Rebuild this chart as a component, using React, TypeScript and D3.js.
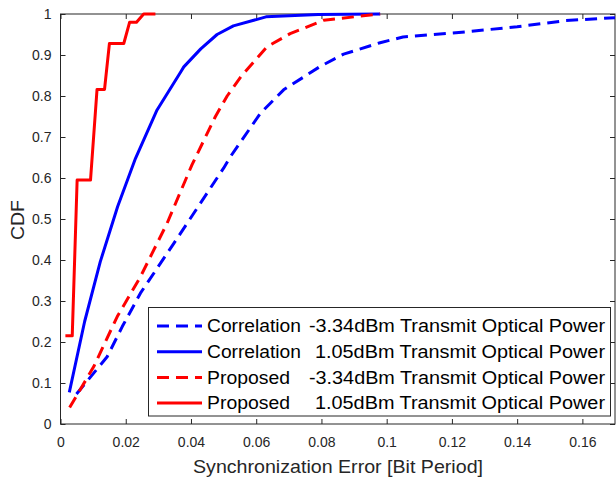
import { useEffect, useRef } from 'react';
import { select, scaleLinear, axisBottom, axisLeft, axisTop, axisRight, line, range } from 'd3';

type Pt = [number, number];

const corrLow: Pt[] = [
  [0.0049, 0.073], [0.0143, 0.164], [0.0189, 0.237], [0.0245, 0.319], [0.0347, 0.44],
  [0.05, 0.624], [0.0521, 0.652], [0.0613, 0.758], [0.0684, 0.815], [0.0796, 0.872],
  [0.0868, 0.902], [0.098, 0.93], [0.105, 0.944], [0.125, 0.957], [0.14, 0.969],
  [0.155, 0.984], [0.17, 0.991]
];
const corrHigh: Pt[] = [
  [0.0027, 0.077], [0.0074, 0.25], [0.0122, 0.396], [0.0175, 0.53], [0.023, 0.648],
  [0.0296, 0.766], [0.0368, 0.858], [0.0378, 0.871], [0.043, 0.915], [0.048, 0.95],
  [0.053, 0.971], [0.063, 0.993], [0.079, 0.999], [0.098, 1.0]
];
const propLow: Pt[] = [
  [0.0028, 0.04], [0.0102, 0.14], [0.0174, 0.262], [0.0245, 0.359], [0.0327, 0.49],
  [0.0403, 0.632], [0.0475, 0.75], [0.0511, 0.8], [0.0553, 0.847], [0.0633, 0.92],
  [0.0704, 0.952], [0.0807, 0.985], [0.098, 1.0]
];
const propHigh: Pt[] = [
  [0.0015, 0.215], [0.0036, 0.215], [0.0051, 0.595], [0.0092, 0.595], [0.0112, 0.816],
  [0.0135, 0.816], [0.015, 0.928], [0.0194, 0.928], [0.0212, 0.98], [0.0233, 0.98],
  [0.0255, 1.0], [0.0291, 1.0]
];

const xTicks = [0, 0.02, 0.04, 0.06, 0.08, 0.1, 0.12, 0.14, 0.16];
const yTicks = range(0, 11).map((i) => i / 10);

const series = [
  { method: 'Correlation', power: '-3.34dBm Transmit Optical Power', data: corrLow, color: '#0000ff', dash: '12,7' },
  { method: 'Correlation', power: '1.05dBm Transmit Optical Power', data: corrHigh, color: '#0000ff', dash: null },
  { method: 'Proposed', power: '-3.34dBm Transmit Optical Power', data: propLow, color: '#ff0000', dash: '12,7' },
  { method: 'Proposed', power: '1.05dBm Transmit Optical Power', data: propHigh, color: '#ff0000', dash: null }
];

const App = () => {
  const svgRef = useRef<SVGSVGElement>(null);

  useEffect(() => {
    document.body.style.margin = '0';
    const svg = select(svgRef.current);
    svg.selectAll('*').remove();
    const left = 60.5, right = 615, top = 14, bottom = 424;
    const x = scaleLinear().domain([0, 0.17]).range([left, right]);
    const y = scaleLinear().domain([0, 1]).range([bottom, top]);
    const font = 'Helvetica, Arial, "Liberation Sans", sans-serif';
    const axisColor = '#262626';

    svg.append('defs').append('clipPath').attr('id', 'plot-clip')
      .append('rect').attr('x', left).attr('y', top - 3).attr('width', right - left).attr('height', bottom - top + 6);

    const styleAxis = (g: any) => {
      g.select('.domain').remove();
      g.selectAll('line').attr('stroke', axisColor).attr('stroke-width', 1);
      g.selectAll('text').attr('fill', axisColor).style('font-family', font).style('font-size', '14px');
    };

    svg.append('g').attr('transform', `translate(0,${bottom})`)
      .call(axisBottom(x).tickValues(xTicks).tickFormat((d: any) => `${+d}`).tickSizeInner(-5).tickSizeOuter(0).tickPadding(13))
      .call(styleAxis);
    svg.append('g').attr('transform', `translate(0,${top})`)
      .call(axisTop(x).tickValues(xTicks).tickFormat(() => '').tickSizeInner(-5).tickSizeOuter(0))
      .call(styleAxis);
    svg.append('g').attr('transform', `translate(${left},0)`)
      .call(axisLeft(y).tickValues(yTicks).tickFormat((d: any) => `${+(+d).toFixed(1)}`).tickSizeInner(-5).tickSizeOuter(0).tickPadding(9))
      .call(styleAxis);
    svg.append('g').attr('transform', `translate(${right},0)`)
      .call(axisRight(y).tickValues(yTicks).tickFormat(() => '').tickSizeInner(-5).tickSizeOuter(0))
      .call(styleAxis);

    svg.append('rect').attr('x', left).attr('y', top).attr('width', right - left).attr('height', bottom - top)
      .attr('fill', 'none').attr('stroke', axisColor).attr('stroke-width', 1);

    const gen = line<Pt>().x((d) => x(d[0])).y((d) => y(d[1]));
    const plot = svg.append('g').attr('clip-path', 'url(#plot-clip)');
    series.forEach((s) => {
      plot.append('path').attr('d', gen(s.data)).attr('fill', 'none')
        .attr('stroke', s.color).attr('stroke-width', 3)
        .attr('stroke-dasharray', s.dash).attr('stroke-linejoin', 'round');
    });

    // legend
    const lg = svg.append('g');
    lg.append('rect').attr('x', 148.5).attr('y', 307.5).attr('width', 462).attr('height', 108.5)
      .attr('fill', 'white').attr('stroke', axisColor).attr('stroke-width', 1);
    series.forEach((s, i) => {
      const cy = 326 + i * 25.7;
      lg.append('line').attr('x1', 157).attr('x2', 202).attr('y1', cy).attr('y2', cy)
        .attr('stroke', s.color).attr('stroke-width', 3).attr('stroke-dasharray', s.dash);
      const neg = s.power.startsWith('-');
      const put = (txt: string, tx: number, len: number) =>
        lg.append('text').attr('x', tx).attr('y', cy).attr('dy', '0.35em')
          .attr('textLength', len).attr('lengthAdjust', 'spacingAndGlyphs')
          .style('font-family', font).style('font-size', '17.5px').attr('fill', '#000')
          .text(txt);
      put(s.method, 207, s.method === 'Correlation' ? 94 : 83);
      put(s.power, neg ? 309 : 315, neg ? 296 : 290);
    });

    svg.append('text').attr('x', 338).attr('y', 473)
      .attr('text-anchor', 'middle').style('font-family', font).style('font-size', '18.5px')
      .attr('textLength', 290).attr('lengthAdjust', 'spacingAndGlyphs')
      .attr('fill', axisColor).text('Synchronization Error [Bit Period]');
    svg.append('text').attr('transform', `translate(24,220) rotate(-90)`)
      .attr('text-anchor', 'middle').style('font-family', font).style('font-size', '19px')
      .attr('textLength', 40).attr('lengthAdjust', 'spacingAndGlyphs')
      .attr('fill', axisColor).text('CDF');
  }, []);

  return <svg ref={svgRef} width={616} height={482} style={{ display: 'block', background: 'white' }} />;
};

export default App;
